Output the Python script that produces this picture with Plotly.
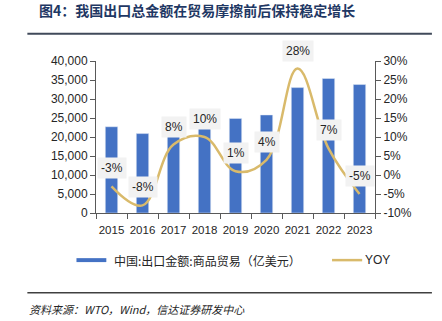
import plotly.graph_objects as go

# China goods exports (100 million USD) and year-on-year growth
years = ["2015", "2016", "2017", "2018", "2019", "2020", "2021", "2022", "2023"]
exports = [22700, 20900, 22600, 24900, 24900, 25800, 33000, 35400, 33800]
yoy = [-3, -8, 8, 10, 1, 4, 28, 7, -5]
yoy_labels = ["-3%", "-8%", "8%", "10%", "1%", "4%", "28%", "7%", "-5%"]

left_ticks = [0, 5000, 10000, 15000, 20000, 25000, 30000, 35000, 40000]
right_ticks = [-10, -5, 0, 5, 10, 15, 20, 25, 30]
right_tick_text = ["-10%", "-5%", "0%", "5%", "10%", "15%", "20%", "25%", "30%"]

title_text = "图4：我国出口总金额在贸易摩擦前后保持稳定增长"
bar_name = "中国:出口金额:商品贸易（亿美元）"
line_name = "YOY"
source_text = "资料来源：WTO，Wind，信达证券研发中心"

BLUE = "#4472C4"
GOLD = "#D9BA6B"
AXIS = "#595959"
FONT = "Liberation Sans, Arial, sans-serif"
CJK = "Noto Sans CJK SC"

fig = go.Figure()
fig.add_trace(go.Bar(x=years, y=exports, marker_color=BLUE, width=0.4,
                     name=bar_name, showlegend=False))
fig.add_trace(go.Scatter(x=years, y=yoy, yaxis="y2", mode="lines",
                         line=dict(color=GOLD, width=2.5, shape="spline", smoothing=1.1),
                         name=line_name, showlegend=False))

# Value labels: on a category axis the annotation x is the category's serial number
for i, (v, t) in enumerate(zip(yoy, yoy_labels)):
    fig.add_annotation(x=i, y=v, xref="x", yref="y2", text=t, showarrow=False, yshift=18,
                       bgcolor="#F2F2F2", borderpad=3,
                       font=dict(family=FONT, size=12, color="#262626"))

# Title and rules
fig.add_annotation(xref="paper", yref="paper", x=-0.212, y=1.335, xanchor="left", yanchor="middle",
                   text="<b>" + title_text + "</b>", showarrow=False,
                   font=dict(family=CJK, size=14, color="#1F3864"))
fig.add_shape(type="line", xref="paper", yref="paper", x0=-0.246, x1=1.204, y0=1.18, y1=1.18,
              line=dict(color="#404A5A", width=2))
fig.add_shape(type="line", xref="paper", yref="paper", x0=-0.246, x1=1.204, y0=-0.525, y1=-0.525,
              line=dict(color="#404040", width=1.5))
fig.add_annotation(xref="paper", yref="paper", x=-0.246, y=-0.63, xanchor="left", yanchor="middle",
                   text="<i>" + source_text + "</i>", showarrow=False,
                   font=dict(family=CJK, size=11, color="#262626"))

# Legend drawn by hand
fig.add_shape(type="rect", xref="paper", yref="paper", x0=-0.07, x1=0.037, y0=-0.297, y1=-0.323,
              fillcolor=BLUE, line=dict(width=0))
fig.add_annotation(xref="paper", yref="paper", x=0.057, y=-0.31, xanchor="left", yanchor="middle",
                   text=bar_name, showarrow=False, font=dict(family=CJK, size=12, color="#262626"))
fig.add_shape(type="line", xref="paper", yref="paper", x0=0.846, x1=0.954, y0=-0.31, y1=-0.31,
              line=dict(color=GOLD, width=2.5))
fig.add_annotation(xref="paper", yref="paper", x=0.958, y=-0.31, xanchor="left", yanchor="middle",
                   text=line_name, showarrow=False, font=dict(family=FONT, size=12, color="#262626"))

fig.update_layout(
    width=442, height=321,
    margin=dict(l=96, r=67, t=61, b=108),
    paper_bgcolor="white", plot_bgcolor="white",
    showlegend=False,
    font=dict(family=FONT, size=12, color="#262626"),
    bargap=0.6,
    xaxis=dict(type="category", range=[-0.5, 8.5], showline=True, linecolor=AXIS, linewidth=1,
               ticks="outside", ticklen=5, tickcolor=AXIS, tickson="boundaries", tickangle=0,
               ticklabelstandoff=6,
               tickfont=dict(family=FONT, size=11.5, color="#262626"), showgrid=False),
    yaxis=dict(range=[0, 40000], tickvals=left_ticks, tickformat=",d",
               showline=True, linecolor=AXIS, linewidth=1, ticks="outside", ticklen=5,
               tickcolor=AXIS, showgrid=False, zeroline=False,
               tickfont=dict(family=FONT, size=12, color="#262626")),
    yaxis2=dict(range=[-10, 30], tickvals=right_ticks, ticktext=right_tick_text, overlaying="y",
                side="right", showline=True, linecolor=AXIS, linewidth=1, ticks="outside",
                ticklen=5, tickcolor=AXIS, showgrid=False, zeroline=False,
                tickfont=dict(family=FONT, size=12, color="#262626")),
)

fig.write_html("out.html")
